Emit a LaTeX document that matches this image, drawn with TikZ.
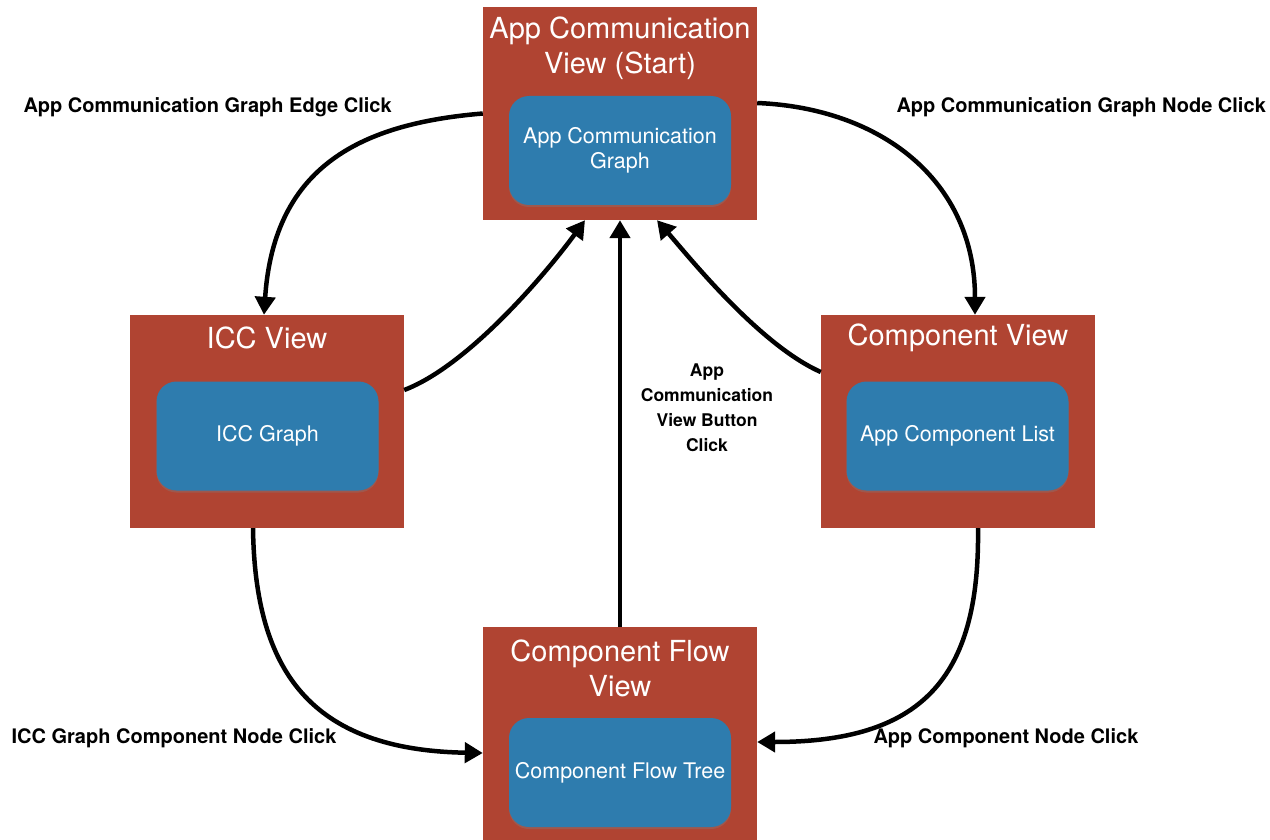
\documentclass[tikz,border=0pt]{standalone}
\usepackage{fontspec}
\setmainfont{TeX Gyre Heros}
\usetikzlibrary{arrows.meta,calc,shadows}
\definecolor{viewred}{RGB}{176,68,50}
\definecolor{graphblue}{RGB}{46,124,174}

\tikzset{
  viewbox/.style={fill=viewred,minimum width=274pt,minimum height=213pt,inner sep=0pt},
  viewtitle/.style={text=white,font=\fontsize{29}{35}\selectfont,align=center},
  graphbox/.style={fill=graphblue,rounded corners=20pt,minimum width=222pt,minimum height=109pt,
    text=white,font=\fontsize{21.5}{25}\selectfont,align=center,
    drop shadow={shadow xshift=0pt,shadow yshift=-2pt,opacity=0.35}},
  clicklabel/.style={font=\bfseries\fontsize{20}{25}\selectfont,align=center},
  link/.style={line width=4.5pt,-{Triangle[length=18pt,width=20pt]}}
}

\begin{document}
\begin{tikzpicture}[x=1pt,y=-1pt]
  \useasboundingbox (0,0) rectangle (1270,840);
  % the four views
  \node[viewbox] (acv) at (620,113.5){};
  \node[viewtitle] (acvT) at (620,48.5){App Communication\\View (Start)};
  \node[graphbox] (acvG) at (620,150.5){App Communication\\Graph};

  \node[viewbox] (icc) at (267,421.5){};
  \node[viewtitle] (iccT) at (267,338){ICC View};
  \node[graphbox] (iccG) at (267.5,436){ICC Graph};

  \node[viewbox] (comp) at (958,421.5){};
  \node[viewtitle] (compT) at (958,338){Component View};
  \node[graphbox] (compG) at (957.5,436){App Component List};

  \node[viewbox] (flow) at (620,733.5){};
  \node[viewtitle] (flowT) at (620,668.5){Component Flow\\View};
  \node[graphbox] (flowG) at (620,772.5){Component Flow Tree};

  % transitions
  \draw[link] (acv.west) .. controls +(-120,10) and +(10,-150) .. ([xshift=-3pt]icc.north);
  \draw[link] ([yshift=10.5pt]acv.east) .. controls +(123,5) and +(0,-135) .. ([xshift=17pt]comp.north);
  \draw[link] ([yshift=31.5pt]icc.east) .. controls +(66,-25) and +(-35,48) .. ([xshift=-35pt]acv.south);
  \draw[link] ([yshift=49.5pt]comp.west) .. controls +(-61,-27) and +(33,38) .. ([xshift=37pt]acv.south);
  \draw[link] (flow.north) -- (acv.south);
  \draw[link] ([xshift=-14pt]icc.south) .. controls +(2,142) and +(-173,-3) .. ([yshift=-19.5pt]flow.west);
  \draw[link] ([xshift=20pt]comp.south) .. controls +(2,152) and +(163,0) .. ([yshift=-8.5pt]flow.east);

  % click labels
  \node[clicklabel,anchor=west] (edgeL) at (20,107){App Communication Graph Edge Click};
  \node[clicklabel,anchor=west] (nodeL) at (893,107){App Communication Graph Node Click};
  \node[clicklabel,font=\bfseries\fontsize{17.5}{25}\selectfont] (buttonL) at (707,407.5){App\\Communication\\View Button\\Click};
  \node[clicklabel,anchor=west] (iccL) at (8,738){ICC Graph Component Node Click};
  \node[clicklabel,anchor=west] (compL) at (870,738){App Component Node Click};
\end{tikzpicture}
\end{document}
